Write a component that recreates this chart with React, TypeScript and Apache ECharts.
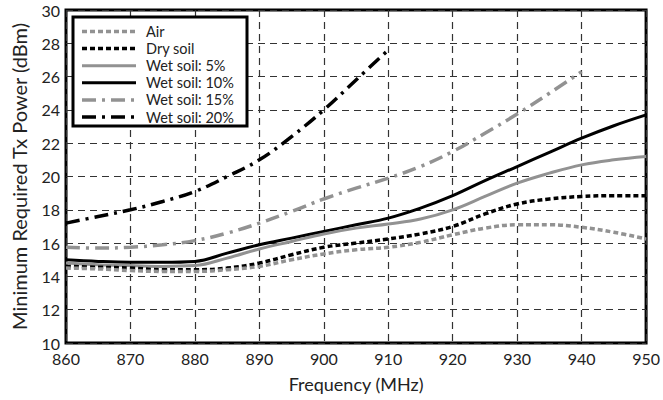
import React, { useEffect, useRef } from "react";
import * as echarts from "echarts";

const freqs = [860, 865, 870, 875, 880, 885, 890, 895, 900, 905, 910, 915, 920, 925, 930, 935, 940, 945, 950];
const air = [14.5, 14.45, 14.35, 14.3, 14.3, 14.4, 14.6, 15.0, 15.35, 15.6, 15.75, 16.05, 16.5, 16.9, 17.1, 17.1, 16.95, 16.65, 16.25];
const drySoil = [14.6, 14.55, 14.5, 14.4, 14.4, 14.5, 14.8, 15.3, 15.75, 16.0, 16.25, 16.55, 17.0, 17.75, 18.35, 18.65, 18.8, 18.85, 18.85];
const wet5 = [14.8, 14.7, 14.65, 14.6, 14.65, 15.1, 15.65, 16.1, 16.55, 16.9, 17.15, 17.45, 18.0, 18.8, 19.6, 20.2, 20.7, 21.0, 21.2];
const wet10 = [15.0, 14.9, 14.85, 14.85, 14.9, 15.4, 15.9, 16.3, 16.7, 17.1, 17.5, 18.1, 18.85, 19.75, 20.6, 21.45, 22.3, 23.05, 23.7];
const wet15 = [15.75, 15.7, 15.75, 15.9, 16.15, 16.6, 17.2, 17.9, 18.65, 19.3, 19.9, 20.6, 21.5, 22.6, 23.75, 25.0, 26.3];
const wet20 = [17.2, 17.6, 18.0, 18.5, 19.1, 20.0, 21.0, 22.4, 24.0, 25.8, 27.6];

const seriesNames = ["Air", "Dry soil", "Wet soil: 5%", "Wet soil: 10%", "Wet soil: 15%", "Wet soil: 20%"];

const FONT = "Lato, 'Open Sans', sans-serif";
const GRAY = "#929292";

function pairs(vals: number[]) {
  return vals.map((v, i) => [freqs[i], v]);
}

export default function App() {
  const ref = useRef<HTMLDivElement>(null);
  useEffect(() => {
    if (!ref.current) return;
    const chart = echarts.init(ref.current, null, { renderer: "svg" });
    const dataSets = [air, drySoil, wet5, wet10, wet15, wet20];
    const styles = [
      { color: GRAY, width: 3.5, dash: [5, 3] },
      { color: "#000", width: 3.5, dash: [5, 3] },
      { color: GRAY, width: 3, dash: null },
      { color: "#000", width: 3, dash: null },
      { color: GRAY, width: 3.5, dash: [14, 6, 3, 6] },
      { color: "#000", width: 3.5, dash: [14, 6, 3, 6] },
    ];
    const legendEls: any[] = [
      {
        type: "rect",
        z: 100,
        shape: { x: 73, y: 17, width: 174, height: 109 },
        style: { fill: "#fff", stroke: "#000", lineWidth: 3 },
      },
    ];
    seriesNames.forEach((n, i) => {
      const y = 31.5 + i * 17.1;
      const s = styles[i];
      legendEls.push({
        type: "line",
        z: 101,
        shape: { x1: 82, y1: y, x2: 136, y2: y },
        style: { stroke: s.color, lineWidth: s.width, lineDash: s.dash || undefined },
      });
      legendEls.push({
        type: "text",
        z: 101,
        x: 146,
        y: y,
        style: {
          text: n,
          fontFamily: FONT,
          fontSize: 14.5,
          lineHeight: 15,
          fill: "#222",
          verticalAlign: "middle",
          align: "left",
        },
      });
    });
    chart.setOption({
      animation: false,
      backgroundColor: "#fff",
      grid: {
        left: 66,
        right: 14,
        top: 10,
        bottom: 57,
        show: true,
        borderColor: "#000",
        borderWidth: 3,
        backgroundColor: "transparent",
      },
      graphic: { elements: legendEls },
      xAxis: {
        type: "value",
        min: 860,
        max: 950,
        interval: 10,
        name: "Frequency (MHz)",
        nameLocation: "middle",
        nameGap: 32,
        nameTextStyle: { fontFamily: FONT, fontSize: 18, color: "#222" },
        axisLine: { show: false },
        axisTick: { show: false },
        axisLabel: { fontFamily: FONT, fontSize: 16, color: "#222", margin: 7 },
        splitLine: { show: true, lineStyle: { color: "#333", width: 1.2, type: [7, 5] } },
      },
      yAxis: {
        type: "value",
        min: 10,
        max: 30,
        interval: 2,
        name: "Minimum Required Tx Power (dBm)",
        nameLocation: "middle",
        nameGap: 37,
        nameTextStyle: { fontFamily: FONT, fontSize: 20, color: "#222" },
        axisLine: { show: false },
        axisTick: { show: false },
        axisLabel: { fontFamily: FONT, fontSize: 16, color: "#222", margin: 6, verticalAlign: "middle" },
        splitLine: { show: true, lineStyle: { color: "#333", width: 1.2, type: [7, 5] } },
      },
      series: dataSets.map((d, i) => ({
        name: seriesNames[i],
        type: "line",
        smooth: 0.4,
        symbol: "none",
        data: pairs(d),
        lineStyle: { color: styles[i].color, width: styles[i].width, type: styles[i].dash || "solid" },
        itemStyle: { color: styles[i].color },
        z: 10 - i,
      })),
    });
    return () => chart.dispose();
  }, []);
  return <div ref={ref} style={{ width: 663, height: 400, position: "absolute", left: 0, top: 0 }} />;
}
